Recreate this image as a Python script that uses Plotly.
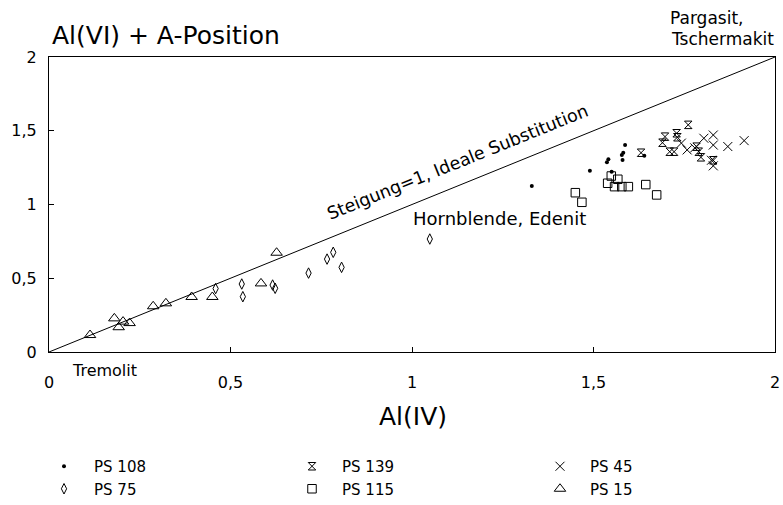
import plotly.graph_objects as go

# ---------------- data ----------------
ps108_x = [1.33, 1.49, 1.537, 1.541, 1.55, 1.578, 1.582, 1.58, 1.587, 1.64]
ps108_y = [1.125, 1.229, 1.286, 1.306, 1.222, 1.336, 1.351, 1.302, 1.403, 1.33]

ps139_x = [1.631, 1.69, 1.697, 1.729, 1.731, 1.761, 1.71, 1.722, 1.784, 1.79, 1.796, 1.83]
ps139_y = [1.351, 1.419, 1.46, 1.483, 1.456, 1.54, 1.358, 1.358, 1.392, 1.358, 1.32, 1.30]

ps45_x = [1.742, 1.758, 1.779, 1.804, 1.83, 1.83, 1.87, 1.915, 1.83, 1.825]
ps45_y = [1.416, 1.37, 1.384, 1.449, 1.471, 1.403, 1.393, 1.433, 1.262, 1.30]

ps75_x = [0.459, 0.531, 0.534, 0.616, 0.623, 0.715, 0.766, 0.783, 0.806, 1.049]
ps75_y = [0.43, 0.461, 0.375, 0.454, 0.432, 0.535, 0.63, 0.676, 0.574, 0.766]

ps115_x = [1.45, 1.468, 1.549, 1.567, 1.539, 1.558, 1.578, 1.596, 1.644, 1.674]
ps115_y = [1.08, 1.015, 1.193, 1.171, 1.144, 1.121, 1.121, 1.121, 1.135, 1.065]

ps15_x = [0.113, 0.18, 0.204, 0.222, 0.192, 0.287, 0.322, 0.393, 0.45, 0.584, 0.627]
ps15_y = [0.115, 0.228, 0.206, 0.196, 0.168, 0.31, 0.33, 0.373, 0.373, 0.465, 0.673]

ideal_x = [0, 2]
ideal_y = [0, 2]

tick_vals = [0, 0.5, 1, 1.5, 2]
tick_text = ["0", "0,5", "1", "1,5", "2"]

# ---------------- layout geometry (pixels) ----------------
W, H = 783, 505
ML, MR, MT, MB = 49, 8, 57, 153
PW, PH = W - ML - MR, H - MT - MB


def px(xp):
    return (xp - ML) / PW


def py(yp):
    return (H - MB - yp) / PH


FONT = "DejaVu Sans"
mk_line = dict(color="black", width=1)

fig = go.Figure()

fig.add_trace(go.Scatter(x=ideal_x, y=ideal_y, mode="lines",
                         line=dict(color="black", width=1),
                         showlegend=False, hoverinfo="skip"))

series = [
    ("PS 108", ps108_x, ps108_y, dict(symbol="circle", size=4, color="black", line=dict(width=0))),
    ("PS 139", ps139_x, ps139_y, dict(symbol="hourglass-open", size=7.5, color="black", line=mk_line)),
    ("PS 45", ps45_x, ps45_y, dict(symbol="x-thin-open", size=9, color="black", line=mk_line)),
    ("PS 75", ps75_x, ps75_y, dict(symbol="diamond-tall-open", size=7.5, color="black", line=mk_line)),
    ("PS 115", ps115_x, ps115_y, dict(symbol="square-open", size=8.5, color="black", line=mk_line)),
    ("PS 15", ps15_x, ps15_y, dict(symbol="triangle-up-open", size=10, color="black", line=mk_line)),
]
for name, xs, ys, mk in series:
    fig.add_trace(go.Scatter(x=xs, y=ys, mode="markers", name=name, marker=mk))

axis_common = dict(
    range=[0, 2], tickvals=tick_vals, ticktext=tick_text,
    showgrid=False, zeroline=False, showline=True, linecolor="black", linewidth=1,
    mirror=True, ticks="inside", ticklen=5, tickcolor="black", automargin=False,
    tickfont=dict(family=FONT, size=16, color="black"),
)

fig.update_layout(
    width=W, height=H,
    margin=dict(l=ML, r=MR, t=MT, b=MB, autoexpand=False),
    paper_bgcolor="white", plot_bgcolor="white",
    font=dict(family=FONT, color="black"),
    xaxis=dict(**axis_common, ticklabelstandoff=16),
    yaxis=dict(**axis_common, ticklabelstandoff=8),
    legend=dict(
        orientation="h", x=px(34), y=py(450), xanchor="left", yanchor="top",
        entrywidth=183, entrywidthmode="pixels", itemwidth=50,
        font=dict(family=FONT, size=15, color="black"),
        bgcolor="rgba(0,0,0,0)", traceorder="normal", tracegroupgap=0,
    ),
    showlegend=True,
)

annotations = [
    dict(text="Al(VI) + A-Position", xref="paper", yref="paper", x=px(50), y=py(35),
         xanchor="left", yanchor="middle", font=dict(size=25)),
    dict(text="Al(IV)", xref="paper", yref="paper", x=px(413), y=py(416),
         xanchor="center", yanchor="middle", font=dict(size=25)),
    dict(text="Pargasit,", xref="paper", yref="paper", x=px(668), y=py(18),
         xanchor="left", yanchor="middle", font=dict(size=17)),
    dict(text="Tschermakit", xref="paper", yref="paper", x=px(776), y=py(39),
         xanchor="right", yanchor="middle", font=dict(size=17)),
    dict(text="Tremolit", xref="paper", yref="paper", x=px(104), y=py(370),
         xanchor="center", yanchor="middle", font=dict(size=16)),
    dict(text="Steigung=1, Ideale Substitution", xref="x", yref="y", x=1.127, y=1.285,
         xanchor="center", yanchor="middle", textangle=-22, font=dict(size=17.5)),
    dict(text="Hornblende, Edenit", xref="x", yref="y", x=1.241, y=0.908,
         xanchor="center", yanchor="middle", font=dict(size=18)),
]
for a in annotations:
    a.setdefault("showarrow", False)
    a["font"] = dict(family=FONT, color="black", **a["font"])
    fig.add_annotation(**a)

fig.write_html(
    "out.html",
    config={"displayModeBar": False},
    post_script="document.body.style.margin='0px';document.body.style.overflow='hidden';",
)
